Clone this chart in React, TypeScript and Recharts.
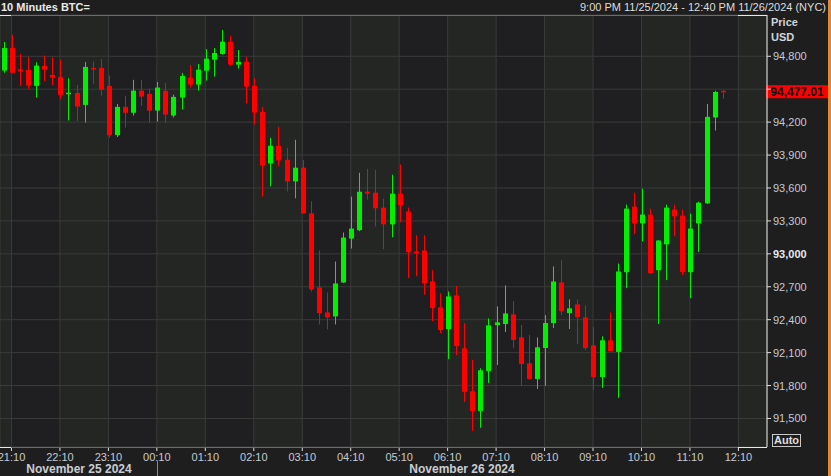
import { ComposedChart, Bar, XAxis, YAxis, CartesianGrid, ReferenceLine } from 'recharts';

// 10-minute BTC candles, 21:00 Nov 25 -> 11:50 Nov 26 (index 0..89)
const OPEN = [
  94670, 94875, 94680, 94675, 94530, 94712, 94630, 94612, 94464, 94466,
  94357, 94694, 94694, 94530, 94082, 94339, 94285, 94487, 94457, 94305,
  94485, 94260, 94424, 94605, 94542, 94669, 94769, 94821, 94933, 94724,
  94751, 94530, 94294, 93824, 93985, 93857, 93660, 93785, 93369, 92694,
  92466, 92430, 92739, 93139, 93215, 93566, 93557, 93421, 93269, 93548,
  93385, 93021, 93030, 92748, 92512, 92315, 92621, 92139, 91748, 91569,
  91933, 92351, 92360, 92448, 92239, 92003, 91860, 92142, 92369, 92739,
  92460, 92539, 92421, 92166, 91878, 92212, 92106, 92833, 93430, 93278,
  93357, 92851, 93087, 93403, 93348, 92833, 93278, 93460, 94242, 94485,
];
const HIGH = [
  94930, 94995, 94821, 94796, 94745, 94805, 94791, 94766, 94600, 94539,
  94748, 94751, 94775, 94624, 94366, 94439, 94585, 94585, 94503, 94566,
  94557, 94451, 94648, 94721, 94730, 94866, 94875, 95039, 94985, 94857,
  94796, 94600, 94339, 94057, 94157, 93966, 94039, 93855, 93478, 93030,
  92648, 92930, 93194, 93521, 93739, 93775, 93766, 93503, 93721, 93815,
  93421, 93169, 93169, 92851, 92642, 92657, 92706, 92369, 92033, 91957,
  92412, 92521, 92712, 92569, 92351, 92260, 92239, 92442, 92885, 92942,
  92585, 92585, 92530, 92333, 92248, 92466, 92912, 93448, 93557, 93594,
  93412, 93125, 93448, 93448, 93403, 93366, 93475, 94366, 94485, 94494,
];
const LOW = [
  94650, 94645, 94530, 94503, 94424, 94575, 94539, 94412, 94215, 94209,
  94196, 94551, 94442, 94057, 94064, 94151, 94260, 94348, 94196, 94205,
  94196, 94242, 94315, 94515, 94487, 94578, 94615, 94815, 94712, 94687,
  94369, 94178, 93521, 93615, 93796, 93569, 93506, 93365, 92657, 92357,
  92312, 92357, 92735, 93048, 93206, 93494, 93248, 93042, 93151, 93287,
  92778, 92796, 92627, 92387, 92278, 92042, 92078, 91651, 91387, 91415,
  91824, 91987, 92287, 92142, 91797, 91855, 91769, 91797, 92324, 92442,
  92315, 92178, 92124, 91760, 91778, 92110, 91687, 92687, 93178, 93115,
  92820, 92360, 92760, 93160, 92806, 92596, 93015, 93455, 94124, 94412,
];
const CLOSE = [
  94875, 94650, 94672, 94533, 94715, 94678, 94605, 94448, 94468, 94342,
  94703, 94682, 94496, 94082, 94339, 94285, 94487, 94433, 94305, 94515,
  94269, 94430, 94621, 94542, 94678, 94778, 94830, 94933, 94724, 94748,
  94524, 94287, 93805, 93985, 93851, 93660, 93785, 93369, 92676, 92460,
  92421, 92730, 93148, 93230, 93566, 93548, 93415, 93269, 93548, 93442,
  93015, 93012, 92733, 92506, 92306, 92612, 92160, 91742, 91569, 91939,
  92348, 92376, 92457, 92215, 91996, 91860, 92148, 92370, 92748, 92478,
  92503, 92424, 92142, 91878, 92212, 92115, 92839, 93412, 93278, 93357,
  92824, 93121, 93421, 93342, 92833, 93230, 93466, 94248, 94475, 94477.01,
];

const X_TICKS = [1, 7, 13, 19, 25, 31, 37, 43, 49, 55, 61, 67, 73, 79, 85, 91];
const X_TICK_LABELS = [
  '21:10', '22:10', '23:10', '00:10', '01:10', '02:10', '03:10', '04:10',
  '05:10', '06:10', '07:10', '08:10', '09:10', '10:10', '11:10', '12:10',
];
const Y_TICKS = [91500, 91800, 92100, 92400, 92700, 93000, 93300, 93600, 93900, 94200, 94500, 94800];
const DATE_LABELS = ['November 25 2024', 'November 26 2024'];

const LAST_PRICE = CLOSE[CLOSE.length - 1];

const GREEN = '#00f000';
const RED = '#ff0000';
const FONT = '"Liberation Sans", Arial, sans-serif';
const TICK_COLOR = '#c6cad0';

const data = OPEN.map((o, i) => ({
  idx: i,
  open: o,
  high: HIGH[i],
  low: LOW[i],
  close: CLOSE[i],
  range: [LOW[i], HIGH[i]],
}));

function Candle(props: any) {
  const { x, y, width, height, payload } = props;
  if (x == null || y == null) return null;
  const { open, close, high, low } = payload;
  const color = close >= open ? GREEN : RED;
  const top = Math.min(y, y + height);
  const h = Math.abs(height);
  const ratio = high - low > 0 ? h / (high - low) : 0;
  const yOf = (v: number) => top + (high - v) * ratio;
  const cx = Math.round(x + width / 2);
  const bTop = yOf(Math.max(open, close));
  const bBot = yOf(Math.min(open, close));
  return (
    <g>
      <line x1={cx + 0.5} x2={cx + 0.5} y1={top} y2={top + h} stroke={color} strokeWidth={1} />
      <rect x={cx - 2} y={bTop} width={5} height={Math.max(1.5, bBot - bTop)} fill={color} />
    </g>
  );
}

function PriceTick(props: any) {
  const { x, y, payload } = props;
  const v = payload.value;
  if (v === 94500) return <g />;
  return (
    <text x={x} y={y} dy={4} fill={v === 93000 ? '#e4e8ee' : TICK_COLOR} fontSize={11}
      fontWeight={v === 93000 ? 700 : 400} fontFamily={FONT} textAnchor="start">
      {v.toLocaleString('en-US')}
    </text>
  );
}

function PriceTag(props: any) {
  const vb = props.viewBox || {};
  const right = (vb.x ?? 0) + (vb.width ?? 767);
  const y = vb.y ?? 0;
  return (
    <g>
      <rect x={right - 1} y={y - 6.5} width={62} height={13} fill={RED} />
      <text x={right + 30} y={y + 4.5} textAnchor="middle" fontSize={12} fontWeight={700}
        fontFamily={FONT} fill="#000">
        {LAST_PRICE.toLocaleString('en-US', { minimumFractionDigits: 2 })}
      </text>
    </g>
  );
}

const abs = (left: number, top: number, extra: any = {}) => ({ position: 'absolute' as const, left, top, ...extra });

export default function App() {
  return (
    <div style={{ position: 'relative', width: 831, height: 476, background: '#1e1e1f', fontFamily: FONT, overflow: 'hidden' }}>
      <style>{'body{margin:0}'}</style>
      <ComposedChart width={831} height={476} data={data} margin={{ top: 15, right: 0, bottom: 0, left: 0 }}>
        <CartesianGrid stroke="#3a3b3a" verticalFill={['#232622', '#1f1f21']} />
        <XAxis
          dataKey="idx"
          type="number"
          domain={[-0.42, 94.54]}
          ticks={X_TICKS}
          interval={0}
          allowDataOverflow
          height={29}
          axisLine={false}
          tickLine={{ stroke: '#e0e0e0' }}
          tickSize={4}
          tick={{ fill: TICK_COLOR, fontSize: 11, fontFamily: FONT }}
          tickFormatter={(v: number) => X_TICK_LABELS[X_TICKS.indexOf(v)] ?? ''}
        />
        <YAxis
          orientation="right"
          width={64}
          domain={[91240, 95176]}
          ticks={Y_TICKS}
          interval={0}
          allowDataOverflow
          axisLine={{ stroke: '#e8e8e8' }}
          tickLine={{ stroke: '#e0e0e0' }}
          tickSize={4}
          tick={<PriceTick />}
        />
        <ReferenceLine y={LAST_PRICE} stroke="none" strokeOpacity={0} label={<PriceTag />} />
        <Bar dataKey="range" barSize={5} isAnimationActive={false} shape={(p: any) => <Candle {...p} />} />
      </ComposedChart>

      {/* frame lines: grey across the time range, white outside it */}
      <div style={abs(0, 15, { width: 767, height: 1, background: '#6c6c6c' })} />
      <div style={abs(0, 15, { width: 11, height: 1, background: '#e8e8e8' })} />
      <div style={abs(738, 15, { width: 29, height: 1, background: '#e8e8e8' })} />
      <div style={abs(0, 447, { width: 767, height: 1, background: '#6c6c6c' })} />
      <div style={abs(0, 447, { width: 11, height: 1, background: '#e8e8e8' })} />
      <div style={abs(738, 447, { width: 29, height: 1, background: '#e8e8e8' })} />

      <div style={abs(1, 0, { fontSize: 11, fontWeight: 700, color: '#eaeaea', lineHeight: '15px' })}>10 Minutes BTC=</div>
      <div style={{ position: 'absolute', right: 5, top: 0, fontSize: 11, color: '#dcdcdc', lineHeight: '15px' }}>
        9:00 PM 11/25/2024 - 12:40 PM 11/26/2024 (NYC)
      </div>
      <div style={abs(771, 16, { fontSize: 11, fontWeight: 700, color: '#cfd4dc', lineHeight: '13px' })}>Price</div>
      <div style={abs(771, 31, { fontSize: 11, fontWeight: 700, color: '#cfd4dc', lineHeight: '13px' })}>USD</div>
      <div style={abs(772, 434, { width: 27, height: 11, border: '1px solid #c8c8c8', fontSize: 11, fontWeight: 700, color: '#dedede', lineHeight: '11px', textAlign: 'center' })}>Auto</div>

      <div style={abs(79, 462, { transform: 'translateX(-50%)', fontSize: 12, fontWeight: 700, color: '#c9cdd3', whiteSpace: 'nowrap', lineHeight: '14px' })}>{DATE_LABELS[0]}</div>
      <div style={abs(157, 461, { width: 1, height: 15, background: '#8c8c8c' })} />
      <div style={abs(462, 462, { transform: 'translateX(-50%)', fontSize: 12, fontWeight: 700, color: '#c9cdd3', whiteSpace: 'nowrap', lineHeight: '14px' })}>{DATE_LABELS[1]}</div>

      <div style={{ position: 'absolute', right: 0, top: 0, width: 3, height: 476, background: '#e0873a' }} />
    </div>
  );
}
